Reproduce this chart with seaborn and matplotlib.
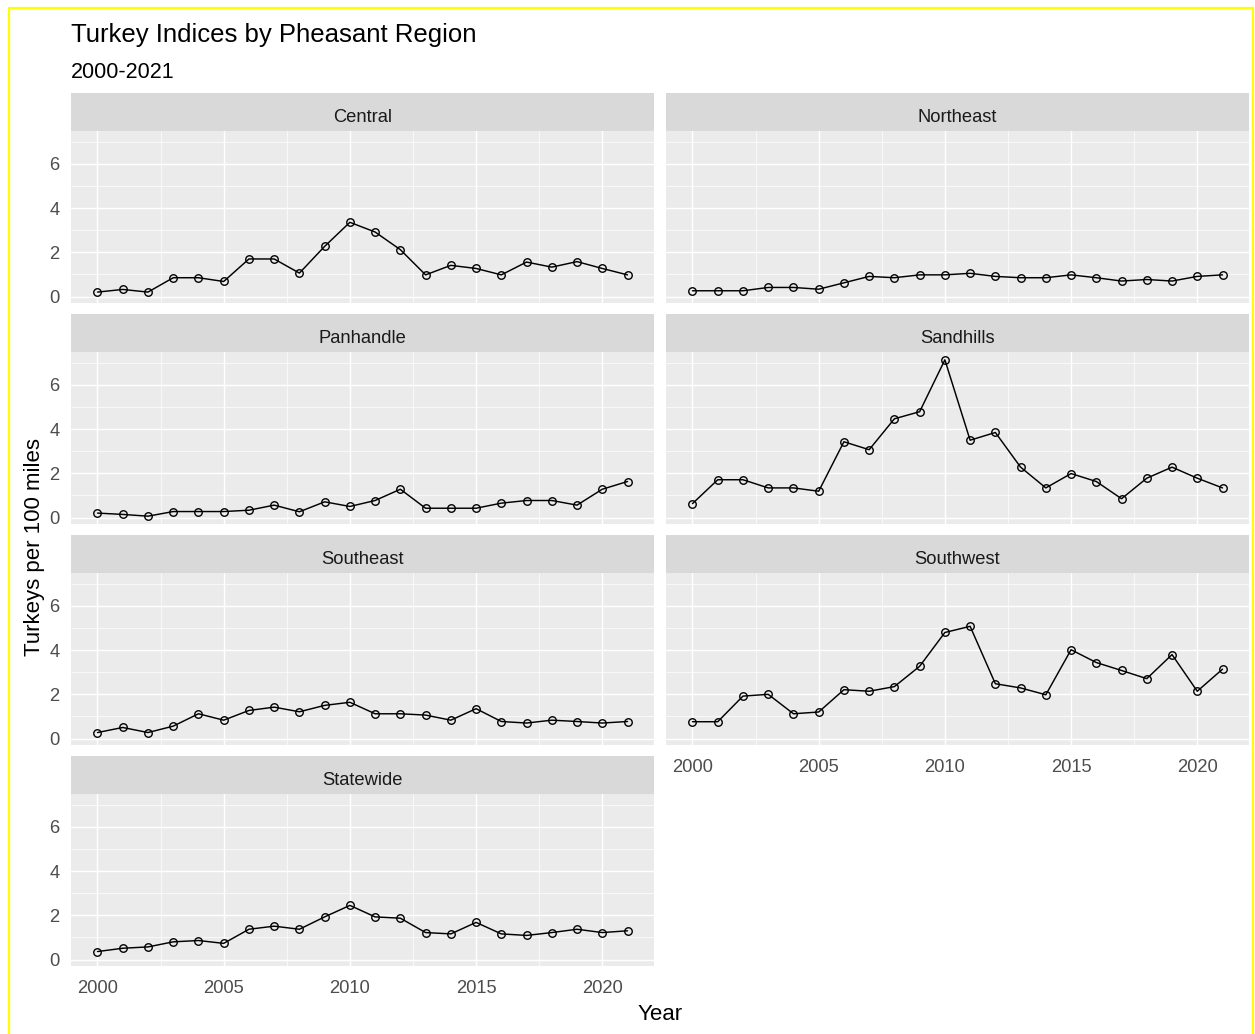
import matplotlib
matplotlib.use("Agg")
import matplotlib.pyplot as plt
from matplotlib.ticker import MultipleLocator, FixedLocator
from matplotlib.lines import Line2D
import numpy as np
import pandas as pd
import seaborn as sns

# Turkeys per 100 miles, by pheasant region
years = list(range(2000, 2022))
central = [0.20, 0.32, 0.20, 0.85, 0.85, 0.68, 1.70, 1.70, 1.06, 2.27, 3.36,
           2.92, 2.12, 0.98, 1.41, 1.27, 0.98, 1.56, 1.33, 1.58, 1.27, 0.98]
northeast = [0.26, 0.26, 0.26, 0.41, 0.41, 0.33, 0.62, 0.91, 0.85, 0.98, 0.98,
             1.05, 0.91, 0.85, 0.85, 0.98, 0.85, 0.70, 0.77, 0.70, 0.91, 0.98]
panhandle = [0.20, 0.14, 0.06, 0.27, 0.27, 0.27, 0.33, 0.56, 0.26, 0.71, 0.50,
             0.77, 1.28, 0.42, 0.42, 0.42, 0.65, 0.77, 0.77, 0.56, 1.28, 1.63]
sandhills = [0.63, 1.71, 1.71, 1.34, 1.34, 1.19, 3.43, 3.07, 4.47, 4.79, 7.14,
             3.50, 3.85, 2.28, 1.34, 1.99, 1.63, 0.85, 1.78, 2.28, 1.78, 1.34]
southeast = [0.27, 0.50, 0.27, 0.56, 1.12, 0.83, 1.27, 1.42, 1.21, 1.50, 1.64,
             1.12, 1.12, 1.06, 0.83, 1.35, 0.77, 0.70, 0.83, 0.77, 0.70, 0.77]
southwest = [0.76, 0.76, 1.92, 2.00, 1.12, 1.20, 2.21, 2.14, 2.35, 3.27, 4.80,
             5.08, 2.48, 2.29, 1.98, 4.02, 3.44, 3.08, 2.71, 3.80, 2.14, 3.14]
statewide = [0.36, 0.51, 0.57, 0.80, 0.86, 0.73, 1.37, 1.51, 1.37, 1.93, 2.45,
             1.93, 1.87, 1.22, 1.16, 1.68, 1.16, 1.09, 1.22, 1.37, 1.22, 1.30]

regions = ["Central", "Northeast", "Panhandle", "Sandhills",
           "Southeast", "Southwest", "Statewide"]
series = [central, northeast, panhandle, sandhills, southeast, southwest, statewide]
x_ticks = [2000, 2005, 2010, 2015, 2020]
y_ticks = [0, 2, 4, 6]

df = pd.concat(
    [pd.DataFrame({"Year": years, "Index": vals, "Region": name})
     for name, vals in zip(regions, series)],
    ignore_index=True,
)

sns.set_theme(style="white")
plt.rcParams["font.family"] = ["Liberation Sans", "DejaVu Sans"]

W, H = 1255, 1034
fig = plt.figure(figsize=(W / 100, H / 100), dpi=100)
fig.patch.set_facecolor("white")

# shared scales with 5% padding, as in a faceted grammar-of-graphics plot
xmin, xmax = min(years), max(years)
xpad = (xmax - xmin) * 0.05
ymin, ymax = df["Index"].min(), df["Index"].max()
ypad = (ymax - ymin) * 0.05

col_left = [71, 666]
panel_w = 583
strip_tops = [93, 314, 535, 756]
strip_h = 38
panel_h = 172

PANEL_BG = "#EBEBEB"
STRIP_BG = "#D9D9D9"
TICK_TXT = "#4D4D4D"
TICK_MARK = "#333333"

for i, (name, vals) in enumerate(zip(regions, series)):
    row, col = divmod(i, 2)
    x0 = col_left[col]
    st = strip_tops[row]
    ptop = st + strip_h
    pbot = ptop + panel_h

    # strip header
    sax = fig.add_axes([x0 / W, 1 - ptop / H, panel_w / W, strip_h / H])
    sax.set_facecolor(STRIP_BG)
    sax.set_xticks([])
    sax.set_yticks([])
    for s in sax.spines.values():
        s.set_visible(False)
    sax.text(0.5, 9.0 / strip_h, name, ha="center", va="baseline",
             fontsize=13.2, color="#1A1A1A", transform=sax.transAxes)

    ax = fig.add_axes([x0 / W, 1 - pbot / H, panel_w / W, panel_h / H])
    ax.set_facecolor(PANEL_BG)
    for s in ax.spines.values():
        s.set_visible(False)
    ax.set_axisbelow(True)

    sub = df[df["Region"] == name]
    sns.lineplot(data=sub, x="Year", y="Index", ax=ax, color="black",
                 linewidth=1.05, marker="o", markersize=5.4,
                 markerfacecolor="none", markeredgecolor="black",
                 markeredgewidth=1.0, legend=False)

    ax.set_xlim(xmin - xpad, xmax + xpad)
    ax.set_ylim(ymin - ypad, ymax + ypad)
    ax.xaxis.set_major_locator(FixedLocator(x_ticks))
    ax.xaxis.set_minor_locator(MultipleLocator(2.5))
    ax.yaxis.set_major_locator(FixedLocator(y_ticks))
    ax.yaxis.set_minor_locator(MultipleLocator(1))
    ax.grid(which="major", color="white", linewidth=1.05)
    ax.grid(which="minor", color="white", linewidth=0.5)
    ax.set_xlabel("")
    ax.set_ylabel("")

    show_y = col == 0
    show_x = (name == "Statewide") or (name == "Southwest")
    ax.tick_params(axis="y", which="major", length=2.9 if show_y else 0,
                   width=0.8, color=TICK_MARK, labelsize=13.2,
                   labelcolor=TICK_TXT, pad=5.5, labelleft=show_y)
    ax.tick_params(axis="x", which="major", length=2.9 if show_x else 0,
                   width=0.8, color=TICK_MARK, labelsize=13.2,
                   labelcolor=TICK_TXT, pad=7.3, labelbottom=show_x)
    ax.tick_params(which="minor", length=0)
    ax.set_yticklabels([str(t) for t in y_ticks] if show_y else [])
    ax.set_xticklabels([str(t) for t in x_ticks] if show_x else [])

fig.text(71 / W, 1 - 42 / H, "Turkey Indices by Pheasant Region",
         fontsize=18.5, color="black", ha="left", va="baseline")
fig.text(71 / W, 1 - 78.5 / H, "2000-2021", fontsize=15.5, color="black",
         ha="left", va="baseline")
fig.text(660 / W, 1 - 1014 / H, "Year", fontsize=16, color="black",
         ha="center", va="center")
fig.text(35 / W, 1 - 547 / H, "Turkeys per 100 miles", fontsize=16,
         color="black", ha="center", va="center", rotation=90)

# thin yellow frame around the drawing area
frame_kw = dict(color="#FFFF00", linewidth=1.6, transform=fig.transFigure)
fig.add_artist(Line2D([9 / W, 9 / W], [0, 1 - 8 / H], **frame_kw))
fig.add_artist(Line2D([9 / W, 1253 / W], [1 - 8 / H, 1 - 8 / H], **frame_kw))
fig.add_artist(Line2D([1253 / W, 1253 / W], [0, 1 - 8 / H], **frame_kw))

fig.savefig("out.png", dpi=100, facecolor="white")
